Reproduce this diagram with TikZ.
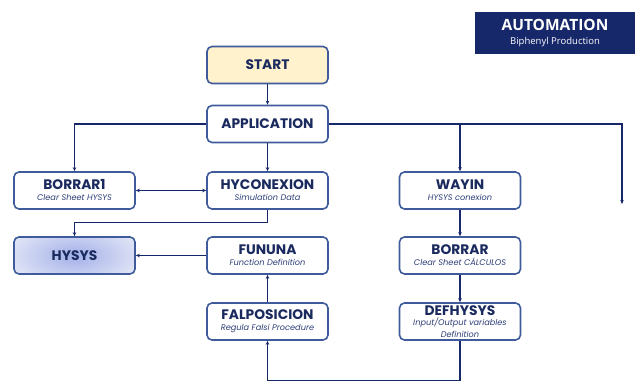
\documentclass[tikz,border=0pt]{standalone}
\usepackage{fontspec}
\setmainfont{Poppins}
\newfontfamily\osans{Open Sans}
\usetikzlibrary{arrows.meta}
\definecolor{navy}{HTML}{16286A}
\definecolor{boxline}{HTML}{3F5B9B}
\definecolor{startfill}{HTML}{FFF2CC}
\definecolor{titlecol}{HTML}{1A2A5E}
\definecolor{subcol}{HTML}{2E3F78}
\definecolor{hyin}{HTML}{A3B0E8}
\definecolor{hyout}{HTML}{F0F2FA}
\tikzset{
  x=1pt, y=-1pt,
  box/.style={draw=boxline, line width=1.6pt, rounded corners=5pt, fill=white,
    minimum width=121pt, minimum height=37pt, inner sep=0pt, align=center,
    text=titlecol, font=\bfseries\fontsize{13.8}{14}\selectfont},
  conn/.style={draw=navy, line width=1.3pt, -{Stealth[length=4pt,width=3.5pt]}}
}
\newcommand{\sfnt}{\itshape\mdseries\fontsize{8.2}{9}\selectfont\color{subcol}}
\newcommand{\subt}[1]{\\[-3pt]\sfnt #1}
\begin{document}
\begin{tikzpicture}
\useasboundingbox (0,0) rectangle (635,382);
% title box
\node[fill=navy, minimum width=160pt, minimum height=42pt, inner sep=0pt, align=center, text=white] (auto) at (555,33)
  {\osans\bfseries\fontsize{15.5}{16}\selectfont AUTOMATION\\[1.5pt]\osans\mdseries\fontsize{9.5}{10}\selectfont Biphenyl Production};
% nodes
\node[box, fill=startfill] (start) at (267.5,65) {START};
\node[box] (app) at (267.5,124) {APPLICATION};
\node[box] (borrar1) at (74.5,190.5) {BORRAR1\subt{Clear Sheet HYSYS}};
\node[box] (hycon) at (267.5,190.5) {HYCONEXION\subt{Simulation Data}};
\node[box] (wayin) at (460,190.5) {WAYIN\subt{HYSYS conexion}};
\begin{scope}
  \clip[rounded corners=5pt] (14,237) rectangle (135,274);
  \shade[inner color=hyin, outer color=hyout] (74.5,255.5) ellipse (85 and 40);
\end{scope}
\node[box, fill=none] (hysys) at (74.5,255.5) {HYSYS};
\node[box] (fununa) at (267.5,255.5) {FUNUNA\subt{Function Definition}};
\node[box] (borrar) at (460,255.5) {BORRAR\subt{Clear Sheet CÁLCULOS}};
\node[box] (falpos) at (267.5,321.5) {FALPOSICION\subt{Regula Falsi Procedure}};
\node[box] (defh) at (460,321.5) {DEFHYSYS\\[-4pt]\sfnt Input/Output variables\\[-2pt]\sfnt Definition};
\coordinate (freeend) at (622,204);
% connectors
\draw[conn] (start) -- (app);
\draw[conn] (app.west) -| (borrar1.north);
\draw[conn] (app) -- (hycon);
\draw[conn] (app.east) -| (wayin.north);
\draw[conn] (app.east) -| (freeend);
\draw[draw=navy, line width=1.3pt, {Stealth[length=4pt,width=3.5pt]}-{Stealth[length=4pt,width=3.5pt]}] (borrar1) -- (hycon);
\draw[conn] (hycon.south) -- ++(0,13) -| (hysys.north);
\draw[conn] (fununa) -- (hysys);
\draw[conn] (falpos) -- (fununa);
\draw[conn] (wayin) -- (borrar);
\draw[conn] (borrar) -- (defh);
\draw[conn] (defh.south) -- ++(0,40) -| (falpos.south);
\end{tikzpicture}
\end{document}
